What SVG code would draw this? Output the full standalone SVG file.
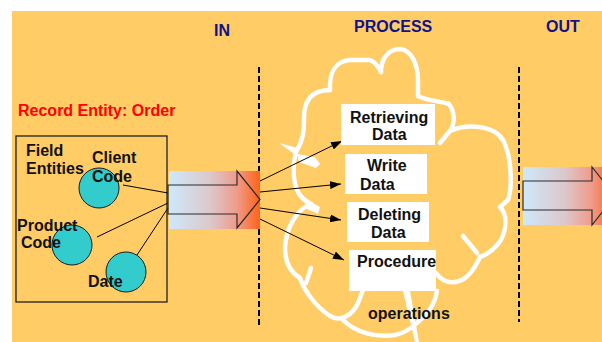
<svg xmlns="http://www.w3.org/2000/svg" width="602" height="342" viewBox="0 0 602 342">
<defs>
<linearGradient id="grad" x1="0" y1="0" x2="1" y2="0">
<stop offset="0" stop-color="#CDE9FB"/>
<stop offset="0.45" stop-color="#DCC8CD"/>
<stop offset="0.75" stop-color="#F09A88"/>
<stop offset="1" stop-color="#FF6219"/>
</linearGradient>
<marker id="ah" markerUnits="userSpaceOnUse" markerWidth="11" markerHeight="8" refX="11" refY="4" orient="auto">
<path d="M0,0 L11,4 L0,8 Z" fill="#000"/>
</marker>
<style>
text{font-family:"Liberation Sans",Arial,sans-serif;font-weight:bold;font-size:16px;fill:#111}
.hdr{fill:#12128A}
.red{fill:#FF0000}
.dash{stroke:#000;stroke-width:2;stroke-dasharray:6 3;fill:none}
.cloud{stroke:#fff;stroke-width:4.5;fill:none;stroke-linecap:round;stroke-linejoin:round}
.conn{stroke:#000;stroke-width:1;fill:none}
.circ{fill:#33CCCC;stroke:#1a1a1a;stroke-width:1}
.box{fill:#fff}
.arr{fill:none;stroke:#2a2a2a;stroke-width:1.2}
</style>
</defs>
<rect x="0" y="0" width="602" height="342" fill="#fff"/>
<rect x="12" y="11" width="590" height="331" fill="#FFCC66"/>

<g id="headers">
<text class="hdr" x="214" y="36">IN</text>
<text class="hdr" x="354" y="32">PROCESS</text>
<text class="hdr" x="546" y="32">OUT</text>
</g>

<g id="dividers">
<line class="dash" x1="259" y1="67" x2="259" y2="325"/>
<line class="dash" x1="519" y1="67" x2="519" y2="322"/>
</g>

<g id="cloud">
<path class="cloud" d="M330,90 C312,90 304,100 304,118 C304,132 303,140 297,150 C292,162 293,180 297,190 C300,197 305,201 311,204"/>
<path class="cloud" d="M311,204 C296,210 286,228 285,248 C285,262 290,272 300,278 C304,290 315,306 330,316 C340,322 352,316 358,303 L363,290"/>
<path class="cloud" d="M343,320 C355,332 375,338 395,335 C405,333 412,328 418,322 C428,314 435,303 437,291"/>
<path class="cloud" d="M330,90 C329,72 336,61 350,60 L370,60 C375,62 378,66 381,72"/>
<path class="cloud" d="M381,72 C381,58 389,49 400,49 C412,50 418,66 418,80 L418,96"/>
<path class="cloud" d="M418,96 C428,101 440,101 449,104 C455,112 455,124 450,131 L440,143"/>
<path class="cloud" d="M450,131 C465,124 493,124 503,140 C511,155 513,185 508,200 L500,207"/>
<path class="cloud" d="M500,207 C508,214 507,233 498,244 C492,251 486,255 480,257"/>
<path class="cloud" d="M463,236 L477,253"/>
<path class="cloud" d="M480,257 C474,270 466,281 455,282 C447,283 440,279 436,273"/>
<path class="cloud" d="M306,283 L311,268"/>
<polygon fill="#fff" points="279,143 298,148 297,156"/>
<polygon fill="#fff" points="297,154 315,157 320,164 316,168 299,162"/>
<polygon fill="#fff" points="307,200 320,207 318,214 305,208"/>
<polygon fill="#fff" points="403,291 410,291 419,342 415,342"/>
</g>

<g id="record-title">
<text class="red" x="18" y="116">Record Entity: Order</text>
</g>

<g id="field-entities">
<rect x="16" y="136" width="151" height="166" fill="none" stroke="#222" stroke-width="1.3"/>
<text x="26" y="156">Field</text>
<text x="26" y="174">Entities</text>
</g>

<g id="connectors">
<line class="conn" x1="123" y1="185" x2="168" y2="193"/>
<line class="conn" x1="97" y1="237" x2="168" y2="203"/>
<line class="conn" x1="137" y1="255" x2="168" y2="208"/>
<line class="conn" x1="260" y1="181" x2="342" y2="141" marker-end="url(#ah)"/>
<line class="conn" x1="260" y1="192" x2="341" y2="184" marker-end="url(#ah)"/>
<line class="conn" x1="260" y1="208" x2="341" y2="220" marker-end="url(#ah)"/>
<line class="conn" x1="260" y1="219" x2="344" y2="260" marker-end="url(#ah)"/>
</g>

<g id="client-code">
<circle class="circ" cx="99" cy="188" r="20"/>
<text x="92" y="163">Client</text>
<text x="92" y="182">Code</text>
</g>
<g id="product-code">
<circle class="circ" cx="72" cy="245" r="20"/>
<text x="17" y="231">Product</text>
<text x="21" y="248">Code</text>
</g>
<g id="date">
<circle class="circ" cx="126" cy="272" r="20"/>
<text x="88" y="287">Date</text>
</g>

<g id="in-arrow">
<rect x="169" y="171" width="91" height="58" fill="url(#grad)"/>
<path class="arr" d="M168,185 H237 V171 L260,199.5 L237,228 V214 H168 Z"/>
</g>

<g id="out-arrow">
<rect x="523" y="167" width="92" height="58" fill="url(#grad)"/>
<path class="arr" d="M523,181 H592 V167 L615,196 L592,225 V210 H523 Z"/>
</g>

<g id="retrieving">
<rect class="box" x="341" y="104" width="94" height="41"/>
<text x="350" y="123">Retrieving</text>
<text x="372" y="140">Data</text>
</g>
<g id="write">
<rect class="box" x="345" y="154" width="82" height="40"/>
<text x="367" y="171">Write</text>
<text x="360" y="190">Data</text>
</g>
<g id="deleting">
<rect class="box" x="347" y="202" width="82" height="40"/>
<text x="358" y="220">Deleting</text>
<text x="371" y="238">Data</text>
</g>
<g id="procedure">
<rect class="box" x="349" y="250" width="87" height="41"/>
<text x="357" y="267">Procedure</text>
</g>
<g id="operations">
<text x="368" y="319">operations</text>
</g>
</svg>
